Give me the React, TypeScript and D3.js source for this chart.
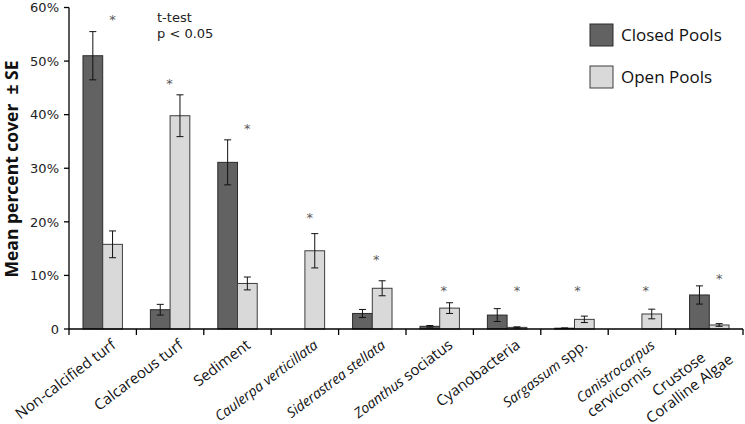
import React from "react";
import * as d3 from "d3";

const categories = [
  "Non-calcified turf",
  "Calcareous turf",
  "Sediment",
  "Caulerpa verticillata",
  "Siderastrea stellata",
  "Zoanthus sociatus",
  "Cyanobacteria",
  "Sargassum spp.",
  "Canistrocarpus cervicornis",
  "Crustose Coralline Algae",
];
// label lines, "_" marks italic segments
const labelLines: string[][] = [
  ["Non-calcified turf"],
  ["Calcareous turf"],
  ["Sediment"],
  ["_Caulerpa verticillata_"],
  ["_Siderastrea stellata_"],
  ["_Zoanthus_ sociatus"],
  ["Cyanobacteria"],
  ["_Sargassum_ spp."],
  ["_Canistrocarpus_", "cervicornis"],
  ["Crustose", "Coralline Algae"],
];
const closedMean = [51.0, 3.6, 31.1, 0, 2.9, 0.5, 2.6, 0.15, 0, 6.35];
const closedSE = [4.5, 1.0, 4.2, 0, 0.75, 0.15, 1.2, 0.05, 0, 1.7];
const openMean = [15.8, 39.8, 8.5, 14.6, 7.6, 3.9, 0.3, 1.8, 2.8, 0.75];
const openSE = [2.5, 3.9, 1.2, 3.2, 1.4, 1.0, 0.1, 0.6, 0.9, 0.25];
const sigLevel = [58.3, 46.4, 37.9, 21.3, 13.6, 7.7, 7.7, 7.7, 7.7, 9.9];
const sigShift = [1, -0.05, 1, 0.5, 0.4, 0.4, 1, 0.3, 0.4, 1];
const yTicks = [0, 10, 20, 30, 40, 50, 60];
const seriesNames = ["Closed Pools", "Open Pools"];

const W = 745;
const H = 424;
const X0 = 69;
const X1 = 743;
const Y0 = 329;
const Y1 = 7.5;

const LABEL_FONT = 15;
const ITALIC_FONT = 14;
const ANGLE = 37;

let ctx: CanvasRenderingContext2D | null = null;
function measure(text: string, italic: boolean): number {
  const fs = italic ? ITALIC_FONT : LABEL_FONT;
  if (!ctx) ctx = document.createElement("canvas").getContext("2d");
  if (!ctx) return text.length * fs * 0.5;
  ctx.font = `${italic ? "italic " : ""}${fs}px "Open Sans"`;
  return ctx.measureText(text).width;
}
function parse(line: string) {
  return line.split("_").map((t, i) => ({ text: t, italic: i % 2 === 1 })).filter((s) => s.text.length > 0);
}

export default function App() {
  const x = d3.scaleBand<string>().domain(categories).range([X0, X1]).paddingInner(0).paddingOuter(0);
  const y = d3.scaleLinear().domain([0, 60]).range([Y0, Y1]);
  const bw = x.bandwidth();
  const barW = bw * 0.2925;
  const colors = ["#626262", "#d9d9d9"];
  const strokes = ["#2b2b2b", "#3c3c3c"];
  const lh = 18;

  return (
    <svg width={W} height={H} style={{ position: "absolute", left: 0, top: 0, background: "#fff" }}>
      {/* bars */}
      {categories.map((c, i) => {
        const cx = (x(c) as number) + bw / 2;
        const vals = [closedMean[i], openMean[i]];
        const ses = [closedSE[i], openSE[i]];
        return (
          <g key={c}>
            {vals.map((v, k) => {
              const bx = k === 0 ? cx - barW : cx;
              if (v <= 0) return null;
              const top = y(v);
              const mid = bx + barW / 2;
              return (
                <g key={k}>
                  <rect x={bx} y={top} width={barW} height={Y0 - top} fill={colors[k]} stroke={strokes[k]} strokeWidth={1} />
                  {ses[k] > 0 && (
                    <g stroke="#111" strokeWidth={1}>
                      <line x1={mid} x2={mid} y1={y(v + ses[k])} y2={y(Math.max(0, v - ses[k]))} />
                      <line x1={mid - 3.5} x2={mid + 3.5} y1={y(v + ses[k])} y2={y(v + ses[k])} />
                      <line x1={mid - 3.5} x2={mid + 3.5} y1={y(Math.max(0, v - ses[k]))} y2={y(Math.max(0, v - ses[k]))} />
                    </g>
                  )}
                </g>
              );
            })}
            <text
              x={cx + (sigShift[i] * barW) / 2}
              y={y(sigLevel[i]) + 7.5}
              textAnchor="middle"
              fontFamily="DejaVu Sans"
              fontSize={13}
              fill="#5a5a5a"
            >
              *
            </text>
          </g>
        );
      })}

      {/* axes */}
      <line x1={X0} x2={X0} y1={Y1} y2={Y0} stroke="#000" strokeWidth={1.3} />
      <line x1={X0} x2={X1} y1={Y0} y2={Y0} stroke="#000" strokeWidth={1.3} />
      {yTicks.map((t) => (
        <g key={t}>
          <line x1={X0 - 5} x2={X0} y1={y(t)} y2={y(t)} stroke="#000" strokeWidth={1.3} />
          <text x={X0 - 10} y={y(t) + 4.7} textAnchor="end" fontFamily="DejaVu Sans" fontSize={13} fill="#222">
            {t === 0 ? "0" : `${t}%`}
          </text>
        </g>
      ))}
      {[...categories.map((c) => x(c) as number), X1].map((tx, i) => (
        <line key={i} x1={tx} x2={tx} y1={Y0} y2={Y0 + 6} stroke="#000" strokeWidth={1.3} />
      ))}

      {/* x labels */}
      {categories.map((c, i) => {
        const cx = (x(c) as number) + bw / 2;
        const lines = labelLines[i].map(parse);
        const widths = lines.map((segs) => segs.reduce((a, s) => a + measure(s.text, s.italic), 0));
        const Wb = Math.max(...widths);
        const startAligned = c === "Canistrocarpus cervicornis";
        return (
          <g key={c} transform={`translate(${cx + 14},${347}) rotate(${-ANGLE})`}>
            {lines.map((segs, li) => (
              <text
                key={li}
                x={startAligned ? -Wb : lines.length > 1 ? -Wb / 2 : 0}
                y={li * lh}
                textAnchor={startAligned ? "start" : lines.length > 1 ? "middle" : "end"}
                fontFamily="Open Sans"
                fontSize={LABEL_FONT}
                fill="#111"
              >
                {segs.map((s, si) => (
                  <tspan key={si} fontStyle={s.italic ? "italic" : "normal"} fontSize={s.italic ? ITALIC_FONT : LABEL_FONT}>
                    {s.text}
                  </tspan>
                ))}
              </text>
            ))}
          </g>
        );
      })}

      {/* y title */}
      <text
        transform={`translate(18,169) rotate(-90)`}
        textAnchor="middle"
        fontFamily="Open Sans"
        fontWeight="bold"
        fontSize={17.5}
        fill="#111"
        style={{ whiteSpace: "pre" }}
      >
        {"Mean percent cover  ± SE"}
      </text>

      {/* annotation */}
      <text fontFamily="DejaVu Sans" fontSize={13} fill="#222">
        <tspan x={157} y={21.5}>t-test</tspan>
        <tspan x={157} y={38}>p &lt; 0.05</tspan>
      </text>

      {/* legend */}
      {seriesNames.map((n, k) => (
        <g key={n} transform={`translate(590,${24 + k * 42})`}>
          <rect x={0} y={0} width={23} height={22} fill={colors[k]} stroke={strokes[k]} strokeWidth={1} />
          <text x={31} y={17} fontFamily="Open Sans" fontSize={17} fill="#111">
            {n}
          </text>
        </g>
      ))}
    </svg>
  );
}
